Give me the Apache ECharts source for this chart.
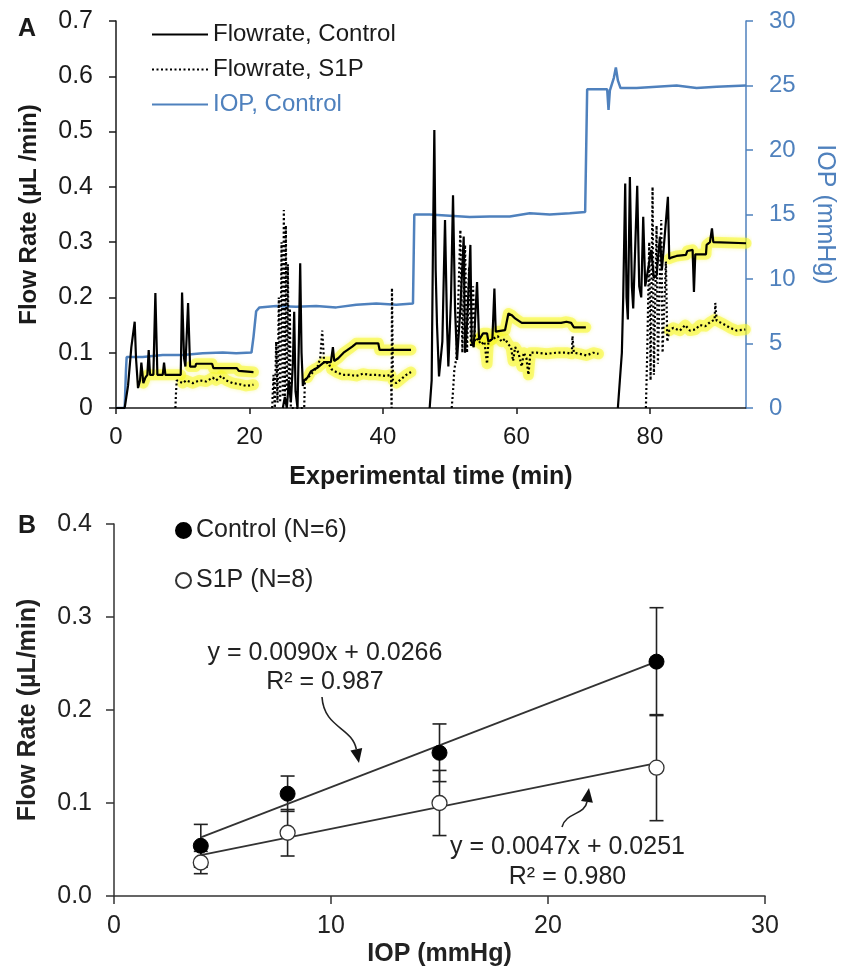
<!DOCTYPE html>
<html lang="en">
<head>
    <meta charset="UTF-8">
    <title>Flow rate vs IOP</title>
    <script src="https://cdn.jsdelivr.net/npm/echarts@6/dist/echarts.min.js"></script>
    <style>
        html, body { margin: 0; padding: 0; background: #fff; }
        #chart { width: 845px; height: 971px; }
    </style>
</head>
<body>
<div id="chart"></div>
<script type="text/javascript">
    // ---- panel A : time course (min, value) ----
    var xTicksA = [0, 20, 40, 60, 80];

    var ctrlFlow = [
        [0, 0], [1.3, 0], [1.8, 0.04], [2.3, 0.11], [2.8, 0.156], [3.0, 0.09], [3.3, 0.036], [3.6, 0.05],
        [3.8, 0.082], [4.1, 0.045], [4.4, 0.055], [4.7, 0.06], [4.9, 0.105], [5.1, 0.06], [5.6, 0.06],
        [5.9, 0.208], [6.2, 0.06], [7.0, 0.06], [7.2, 0.082], [7.4, 0.06], [9.7, 0.06], [9.9, 0.209],
        [10.2, 0.09], [10.4, 0.075], [10.8, 0.19], [11.1, 0.075], [11.9, 0.075], [12.0, 0.08], [14.4, 0.08],
        [14.6, 0.072], [18.1, 0.072], [18.4, 0.067], [20.6, 0.065], [20.8, '-'],
        [25.0, 0], [25.3, 0.02], [25.6, 0.0], [25.9, 0.05], [26.2, 0.01], [26.5, 0.08], [26.7, 0.174],
        [26.9, 0.03], [27.2, 0.0], [27.4, 0.12], [27.6, 0.262], [27.8, 0.1], [28.0, 0.04], [28.2, 0.05],
        [28.7, 0.055], [29.2, 0.066], [29.7, 0.07], [30.2, 0.073], [30.7, 0.078], [31.2, 0.083], [32.2, 0.083],
        [32.5, 0.11], [32.7, 0.085], [33.3, 0.09], [34.1, 0.1], [34.7, 0.105], [35.4, 0.111], [36.0, 0.117],
        [39.3, 0.117], [39.5, 0.105], [44.2, 0.105], [44.3, '-'],
        [47.0, 0], [47.3, 0.05], [47.5, 0.3], [47.7, 0.503], [47.9, 0.25], [48.1, 0.15], [48.4, 0.057],
        [48.9, 0.12], [49.3, 0.34], [49.6, 0.15], [49.8, 0.075], [50.2, 0.2], [50.5, 0.385], [50.8, 0.18],
        [51.1, 0.087], [51.6, 0.18], [52.1, 0.31], [52.3, 0.1], [52.6, 0.15], [53.1, 0.295], [53.3, 0.12],
        [53.6, 0.11], [54.1, 0.228], [54.4, 0.123], [55.0, 0.135], [55.6, 0.135], [55.8, 0.12], [56.4, 0.125],
        [56.7, 0.216], [56.9, 0.138], [58.3, 0.141], [58.8, 0.171], [59.3, 0.168], [59.8, 0.162], [60.8, 0.154],
        [66.7, 0.154], [67.5, 0.156], [68.2, 0.154], [68.6, 0.146], [70.4, 0.146], [70.5, '-'],
        [75.2, 0], [75.5, 0.05], [75.8, 0.1], [76.0, 0.2], [76.3, 0.406], [76.5, 0.2], [76.7, 0.16],
        [77.0, 0.418], [77.3, 0.22], [77.5, 0.18], [78.1, 0.402], [78.4, 0.22], [78.7, 0.2], [79.0, 0.346],
        [79.3, 0.22], [79.5, 0.22], [80.2, 0.286], [80.6, 0.235], [81.0, 0.24], [81.5, 0.31], [81.8, 0.25],
        [82.0, 0.25], [82.7, 0.382], [82.9, 0.27], [83.2, 0.272], [84.0, 0.275], [85.4, 0.277], [85.6, 0.284],
        [86.4, 0.286], [86.6, 0.21], [86.8, 0.278], [88.4, 0.278], [88.5, 0.295], [89.0, 0.3], [89.3, 0.325],
        [89.5, 0.3], [94.4, 0.298]
    ];

    var s1pFlow = [
        [8.9, 0], [9.0, 0.03], [9.1, 0.05], [10.0, 0.045], [10.5, 0.05], [11.5, 0.045], [12.5, 0.05],
        [13.5, 0.048], [14.5, 0.055], [15.0, 0.05], [15.8, 0.058], [16.5, 0.05], [17.5, 0.045], [18.5, 0.043],
        [19.5, 0.04], [20.6, 0.042], [21.0, '-'],
        [23.4, 0.0], [23.6, 0.06], [23.8, 0.0], [24.0, 0.12], [24.2, 0.01], [24.4, 0.2], [24.6, 0.01],
        [24.8, 0.3], [25.0, 0.02], [25.15, 0.358], [25.3, 0.02], [25.45, 0.33], [25.6, 0.03], [25.75, 0.26],
        [25.9, 0.03], [26.05, 0.18], [26.2, 0.0], [28.2, 0], [28.3, 0.05], [28.8, 0.055], [29.5, 0.065],
        [30.2, 0.075], [30.6, 0.09], [30.9, 0.14], [31.2, 0.08], [31.8, 0.082], [32.3, 0.07], [33.0, 0.065],
        [34.0, 0.06], [35.0, 0.06], [36.0, 0.058], [37.0, 0.062], [38.0, 0.06], [39.0, 0.06], [40.5, 0.058],
        [41.2, 0.06], [41.3, 0.0], [41.35, 0.217], [41.5, 0.05], [42.0, 0.045], [42.5, 0.05], [43.0, 0.055],
        [43.5, 0.06], [44.2, 0.065], [44.5, '-'],
        [50.3, 0], [50.5, 0.03], [50.7, 0.07], [51.0, 0.09], [51.3, 0.2], [51.6, 0.322], [51.9, 0.1],
        [52.3, 0.295], [52.6, 0.1], [52.9, 0.255], [53.2, 0.11], [53.5, 0.22], [53.8, 0.12], [54.2, 0.125],
        [54.7, 0.115], [55.2, 0.12], [55.6, 0.08], [55.8, 0.12], [56.5, 0.125], [57.2, 0.13], [57.8, 0.12],
        [58.3, 0.125], [58.8, 0.115], [59.2, 0.11], [59.5, 0.085], [59.8, 0.11], [60.3, 0.1], [60.8, 0.075],
        [61.1, 0.1], [61.5, 0.09], [61.8, 0.06], [62.1, 0.1], [63.0, 0.1], [64.5, 0.098], [66.0, 0.1],
        [67.5, 0.1], [68.3, 0.098], [68.4, 0.13], [68.6, 0.1], [69.5, 0.098], [70.5, 0.095], [71.5, 0.1],
        [72.3, 0.098], [72.5, '-'],
        [79.4, 0], [79.6, 0.1], [79.9, 0.3], [80.1, 0.05], [80.4, 0.4], [80.6, 0.06], [81.0, 0.33],
        [81.2, 0.08], [81.7, 0.34], [81.9, 0.1], [82.4, 0.265], [82.6, 0.12], [82.9, 0.14], [83.5, 0.145],
        [84.5, 0.14], [85.3, 0.15], [86.0, 0.14], [86.8, 0.142], [87.5, 0.15], [88.3, 0.148], [89.0, 0.155],
        [89.7, 0.16], [89.8, 0.19], [90.0, 0.158], [91.0, 0.152], [92.0, 0.145], [93.0, 0.14], [94.3, 0.142]
    ];

    var iopCtrl = [
        [0, 0], [1.3, 0], [1.5, 3.0], [1.6, 3.95], [4, 3.95], [7, 4.1], [10, 4.1], [13, 4.25], [16, 4.3],
        [18, 4.25], [20.3, 4.3], [20.6, 5.5], [21.0, 7.5], [21.5, 7.8], [24, 7.9], [27, 7.85], [30, 7.9],
        [33, 7.8], [36, 8.0], [39, 8.1], [42, 8.0], [44.5, 8.1], [44.7, 15.0], [47, 15.0], [50, 14.9],
        [53, 14.8], [56, 14.85], [59, 14.85], [62, 15.1], [65, 15.0], [68, 15.1], [70.3, 15.2], [70.6, 24.7],
        [73.6, 24.7], [73.8, 23.1], [74.0, 24.6], [74.6, 25.6], [74.9, 26.4], [75.2, 25.4], [75.6, 24.8],
        [78, 24.8], [81, 24.9], [84, 25.0], [87, 24.8], [90, 24.9], [94.4, 25.0]
    ];

    // time windows (min) that carry the yellow marker
    var ctrlHighlight = [[3.5, 3.7], [4.0, 4.8], [5.05, 5.7], [6.2, 7.1], [7.4, 9.7], [11.1, 20.7],
        [28.7, 32.3], [32.7, 44.3], [54.4, 56.5], [56.9, 70.5], [82.9, 86.5], [86.8, 89.2], [89.5, 94.5]];
    var s1pHighlight = [[9.5, 20.7], [31.9, 41.2], [41.5, 44.3], [53.8, 68.3], [68.6, 72.4],
        [82.8, 89.7], [90.0, 94.4]];

    // ---- panel B : flow vs IOP ----
    var iopLevels = [4, 8, 15, 25];
    var ctrlMean = [0.054, 0.110, 0.154, 0.252];
    var ctrlErr = [0.023, 0.019, 0.031, 0.058];
    var s1pMean = [0.036, 0.068, 0.100, 0.138];
    var s1pErr = [0.012, 0.025, 0.035, 0.057];
    var ctrlFit = [[4, 0.063], [25, 0.252]];
    var s1pFit = [[4, 0.044], [25, 0.143]];

    var FONT = "'Liberation Sans', Arial, sans-serif";
    var BLUE = '#4F81BD';
    var INK = '#1a1a1a';
    var YELLOW = 'rgba(248,248,40,0.55)';

    function pick(data, ranges) {
        var out = [];
        ranges.forEach(function (r) {
            data.forEach(function (p) {
                if (p[1] !== '-' && p[0] >= r[0] && p[0] <= r[1]) out.push(p);
            });
            out.push([r[1], '-']);
        });
        return out;
    }

    function zip(xs, ys) {
        return xs.map(function (x, i) { return [x, ys[i]]; });
    }

    function bars(xs, mean, err) {
        return xs.map(function (x, i) { return [x, mean[i] - err[i], mean[i] + err[i]]; });
    }

    function errorBar(params, api) {
        var x = api.value(0);
        var top = api.coord([x, api.value(2)]);
        var bot = api.coord([x, api.value(1)]);
        var w = 7;
        var st = { stroke: '#222', lineWidth: 1.6 };
        return {
            type: 'group',
            children: [
                { type: 'line', shape: { x1: top[0], y1: top[1], x2: bot[0], y2: bot[1] }, style: st },
                { type: 'line', shape: { x1: top[0] - w, y1: top[1], x2: top[0] + w, y2: top[1] }, style: st },
                { type: 'line', shape: { x1: bot[0] - w, y1: bot[1], x2: bot[0] + w, y2: bot[1] }, style: st }
            ]
        };
    }

    var chart = echarts.init(document.getElementById('chart'));

    var option = {
        animation: false,
        backgroundColor: '#fff',
        textStyle: { fontFamily: FONT },
        title: [
            { text: 'A', left: 13, top: 12, textStyle: { fontFamily: FONT, fontSize: 25, fontWeight: 'bold', color: INK } },
            { text: 'B', left: 13, top: 509, textStyle: { fontFamily: FONT, fontSize: 25, fontWeight: 'bold', color: INK } }
        ],
        legend: [
            {
                orient: 'vertical', left: 146, top: 17, itemWidth: 56, itemHeight: 14, itemGap: 10,
                itemStyle: { opacity: 0 },
                textStyle: { fontFamily: FONT, fontSize: 24, lineHeight: 25, color: INK },
                data: [
                    { name: 'Flowrate, Control' },
                    { name: 'Flowrate, S1P' },
                    { name: 'IOP, Control', textStyle: { color: BLUE } }
                ]
            },
            {
                orient: 'vertical', left: 170, top: 513, itemWidth: 15, itemHeight: 15, itemGap: 25,
                textStyle: { fontFamily: FONT, fontSize: 25, lineHeight: 25, color: '#222' },
                data: ['Control (N=6)', 'S1P (N=8)']
            }
        ],
        grid: [
            { left: 116, right: 91, top: 21, bottom: 563 },
            { left: 114, right: 80, top: 524, bottom: 75 }
        ],
        xAxis: [
            {
                type: 'value', gridIndex: 0, min: 0, max: 94.4,
                name: 'Experimental time (min)', nameLocation: 'middle', nameGap: 57,
                nameTextStyle: { fontFamily: FONT, fontSize: 25, fontWeight: 'bold', color: INK },
                axisLine: { lineStyle: { color: INK, width: 1.5 } },
                axisTick: { show: true, length: 6, lineStyle: { color: INK, width: 1.5 }, customValues: xTicksA },
                axisLabel: { fontSize: 24, color: INK, margin: 17, customValues: xTicksA },
                splitLine: { show: false }
            },
            {
                type: 'value', gridIndex: 1, min: 0, max: 30, interval: 10,
                name: 'IOP (mmHg)', nameLocation: 'middle', nameGap: 46,
                nameTextStyle: { fontFamily: FONT, fontSize: 25, fontWeight: 'bold', color: '#222' },
                axisLine: { lineStyle: { color: '#333', width: 1.5 } },
                axisTick: { show: true, length: 8, lineStyle: { color: '#333', width: 1.5 } },
                axisLabel: { fontSize: 25, color: '#222', margin: 18 },
                splitLine: { show: false }
            }
        ],
        yAxis: [
            {
                type: 'value', gridIndex: 0, position: 'left', min: 0, max: 0.7, interval: 0.1,
                name: 'Flow Rate (µL /min)', nameLocation: 'middle', nameGap: 75,
                nameTextStyle: { fontFamily: FONT, fontSize: 24, fontWeight: 'bold', color: INK },
                axisLine: { show: true, lineStyle: { color: INK, width: 1.5 } },
                axisTick: { show: true, length: 7, lineStyle: { color: INK, width: 1.5 } },
                axisLabel: { fontSize: 25, color: INK, margin: 23 },
                splitLine: { show: false }
            },
            {
                type: 'value', gridIndex: 0, position: 'right', min: 0, max: 30, interval: 5,
                name: 'IOP (mmHg)', nameLocation: 'middle', nameGap: 66, nameRotate: -90,
                nameTextStyle: { fontFamily: FONT, fontSize: 25, color: BLUE },
                axisLine: { show: true, lineStyle: { color: BLUE, width: 1.5 } },
                axisTick: { show: true, length: 7, lineStyle: { color: BLUE, width: 1.5 } },
                axisLabel: { fontSize: 24, color: BLUE, margin: 23 },
                splitLine: { show: false }
            },
            {
                type: 'value', gridIndex: 1, min: 0, max: 0.4, interval: 0.1,
                name: 'Flow Rate (µL/min)', nameLocation: 'middle', nameGap: 73,
                nameTextStyle: { fontFamily: FONT, fontSize: 25, fontWeight: 'bold', color: '#222' },
                axisLine: { show: true, lineStyle: { color: '#333', width: 1.5 } },
                axisTick: { show: true, length: 8, lineStyle: { color: '#333', width: 1.5 } },
                axisLabel: {
                    fontSize: 25, color: '#222', margin: 22,
                    formatter: function (v) { return v.toFixed(1); }
                },
                splitLine: { show: false }
            }
        ],
        series: [
            {
                name: 'hl-ctrl', type: 'line', xAxisIndex: 0, yAxisIndex: 0, symbol: 'none',
                data: pick(ctrlFlow, ctrlHighlight), connectNulls: false, silent: true,
                lineStyle: { color: YELLOW, width: 11, cap: 'round', join: 'round', shadowBlur: 4, shadowColor: 'rgba(240,240,0,0.6)' }
            },
            {
                name: 'hl-s1p', type: 'line', xAxisIndex: 0, yAxisIndex: 0, symbol: 'none',
                data: pick(s1pFlow, s1pHighlight), connectNulls: false, silent: true,
                lineStyle: { color: YELLOW, width: 11, cap: 'round', join: 'round', shadowBlur: 4, shadowColor: 'rgba(240,240,0,0.6)' }
            },
            {
                name: 'IOP, Control', type: 'line', xAxisIndex: 0, yAxisIndex: 1, symbol: 'none',
                data: iopCtrl, lineStyle: { color: BLUE, width: 2.5 }, itemStyle: { color: BLUE }
            },
            {
                name: 'Flowrate, Control', type: 'line', xAxisIndex: 0, yAxisIndex: 0, symbol: 'none',
                data: ctrlFlow, connectNulls: false,
                lineStyle: { color: '#000', width: 2.2 }, itemStyle: { color: '#000' }
            },
            {
                name: 'Flowrate, S1P', type: 'line', xAxisIndex: 0, yAxisIndex: 0, symbol: 'none',
                data: s1pFlow, connectNulls: false,
                lineStyle: { color: '#000', width: 2.2, type: [2, 2.5] }, itemStyle: { color: '#000' }
            },
            {
                name: 'fit-ctrl', type: 'line', xAxisIndex: 1, yAxisIndex: 2, symbol: 'none',
                data: ctrlFit, lineStyle: { color: '#333', width: 1.8 }
            },
            {
                name: 'fit-s1p', type: 'line', xAxisIndex: 1, yAxisIndex: 2, symbol: 'none',
                data: s1pFit, lineStyle: { color: '#333', width: 1.8 }
            },
            {
                name: 'err-ctrl', type: 'custom', xAxisIndex: 1, yAxisIndex: 2,
                renderItem: errorBar, encode: { x: 0, y: [1, 2] },
                data: bars(iopLevels, ctrlMean, ctrlErr), z: 3
            },
            {
                name: 'err-s1p', type: 'custom', xAxisIndex: 1, yAxisIndex: 2,
                renderItem: errorBar, encode: { x: 0, y: [1, 2] },
                data: bars(iopLevels, s1pMean, s1pErr), z: 3
            },
            {
                name: 'Control (N=6)', type: 'scatter', xAxisIndex: 1, yAxisIndex: 2,
                symbol: 'circle', symbolSize: 15, z: 5,
                itemStyle: { color: '#000', borderColor: '#000', borderWidth: 1, opacity: 1 },
                data: zip(iopLevels, ctrlMean)
            },
            {
                name: 'S1P (N=8)', type: 'scatter', xAxisIndex: 1, yAxisIndex: 2,
                symbol: 'circle', symbolSize: 15, z: 5,
                itemStyle: { color: '#fff', borderColor: '#333', borderWidth: 1.3, opacity: 1 },
                data: zip(iopLevels, s1pMean)
            }
        ]
    };

    chart.setOption(option);

    // annotations of panel B, anchored in data coordinates
    var eqCtrl = { text: 'y = 0.0090x + 0.0266', at: [9.72, 0.261] };
    var r2Ctrl = { text: 'R² = 0.987', at: [9.72, 0.230] };
    var eqS1p = { text: 'y = 0.0047x + 0.0251', at: [20.9, 0.0527] };
    var r2S1p = { text: 'R² = 0.980', at: [20.9, 0.0204] };
    var arrowCtrl = [[9.585, 0.214], [9.677, 0.1806], [10.968, 0.1817], [11.29, 0.143]];
    var arrowS1p = [[20.645, 0.0742], [20.829, 0.0903], [21.705, 0.0871], [21.889, 0.1161]];

    function toPx(p) {
        return chart.convertToPixel({ gridIndex: 1 }, p);
    }

    function label(t) {
        var p = toPx(t.at);
        return {
            type: 'text', x: p[0], y: p[1], z: 10,
            style: { text: t.text, fontFamily: FONT, fontSize: 25, fill: '#222', align: 'center', verticalAlign: 'middle' }
        };
    }

    function arrow(pts) {
        var p = pts.map(toPx);
        var dx = p[3][0] - p[2][0], dy = p[3][1] - p[2][1];
        var len = Math.sqrt(dx * dx + dy * dy);
        var ux = dx / len, uy = dy / len;
        var L = 14, W = 6;
        var bx = p[3][0] - ux * L, by = p[3][1] - uy * L;
        return [
            {
                type: 'bezierCurve', z: 10,
                shape: {
                    x1: p[0][0], y1: p[0][1], cpx1: p[1][0], cpy1: p[1][1],
                    cpx2: p[2][0], cpy2: p[2][1], x2: bx, y2: by
                },
                style: { stroke: '#222', lineWidth: 1.6, fill: null }
            },
            {
                type: 'polygon', z: 10,
                shape: { points: [p[3], [bx - uy * W, by + ux * W], [bx + uy * W, by - ux * W]] },
                style: { fill: '#111' }
            }
        ];
    }

    chart.setOption({
        graphic: [label(eqCtrl), label(r2Ctrl), label(eqS1p), label(r2S1p)]
            .concat(arrow(arrowCtrl)).concat(arrow(arrowS1p))
    });
</script>
</body>
</html>
